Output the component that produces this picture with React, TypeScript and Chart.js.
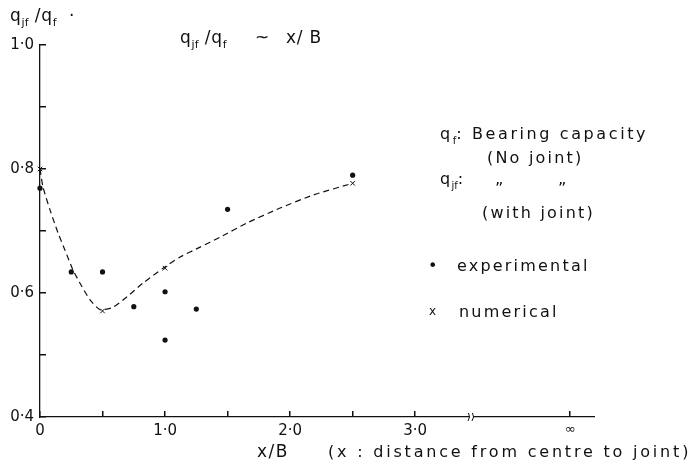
import React, { useEffect, useRef } from "react";
import { Chart, registerables } from "chart.js";

Chart.register(...registerables);

// ---- data ----
const experimentalX = [0, 0.25, 0.5, 0.75, 1.0, 1.0, 1.25, 1.5, 2.5];
const experimentalY = [0.769, 0.634, 0.634, 0.578, 0.602, 0.524, 0.574, 0.735, 0.79];

const numericalX = [0, 0.5, 1.0, 2.5];
const numericalY = [0.8, 0.571, 0.64, 0.777];

// dashed fitted curve
const curveX = [0, 0.024, 0.08, 0.144, 0.2, 0.264, 0.336, 0.4, 0.48, 0.584, 0.696, 0.824, 0.984, 1.12, 1.28, 1.44, 1.656, 1.92, 2.184, 2.5];
const curveY = [0.8, 0.771, 0.734, 0.697, 0.669, 0.637, 0.61, 0.589, 0.573, 0.577, 0.594, 0.616, 0.64, 0.658, 0.674, 0.69, 0.713, 0.737, 0.758, 0.777];

const xTickValues = [0, 0.5, 1, 1.5, 2, 2.5, 3, 4.24];
const xTickLabels = ["0", "", "1·0", "", "2·0", "", "3·0", "∞"];
const yTickValues = [0.4, 0.5, 0.6, 0.7, 0.8, 0.9, 1.0];
const yTickLabels = ["0·4", "", "0·6", "", "0·8", "", "1·0"];

const X_MIN = 0;
const X_MAX = 4.43;
const X_BREAK = 3.45;
const Y_MIN = 0.4;
const Y_MAX = 1.0;

const FONT = "'DejaVu Sans', sans-serif";
const INK = "#111";

type Part = { t: string; sub?: boolean };

function drawRich(ctx: CanvasRenderingContext2D, x: number, y: number, parts: Part[], size: number, spacing: number) {
  let cx = x;
  for (const p of parts) {
    const s = p.sub ? Math.round(size * 0.62) : size;
    ctx.font = `${s}px ${FONT}`;
    (ctx as any).letterSpacing = `${p.sub ? 0 : spacing}px`;
    ctx.fillText(p.t, cx, p.sub ? y + size * 0.32 : y);
    cx += ctx.measureText(p.t).width;
  }
  (ctx as any).letterSpacing = "0px";
}

const decorPlugin = {
  id: "decor",
  afterDraw(chart: any) {
    const ctx: CanvasRenderingContext2D = chart.ctx;
    const xs = chart.scales.x;
    const ys = chart.scales.y;
    const left = chart.chartArea.left;
    const bottom = chart.chartArea.bottom;
    ctx.save();
    ctx.setLineDash([]);
    ctx.strokeStyle = INK;
    ctx.fillStyle = INK;
    // inward tick marks
    for (const v of yTickValues) {
      const py = Math.round(ys.getPixelForValue(v));
      ctx.fillRect(left, py - 1, 6, 1.5);
    }
    for (const v of xTickValues) {
      const px = Math.round(xs.getPixelForValue(v));
      ctx.fillRect(px - 1, bottom - 6, 1.5, 6);
    }
    // axis break
    const bx = xs.getPixelForValue(X_BREAK);
    ctx.fillStyle = "#fff";
    ctx.fillRect(bx - 2, bottom - 3, 4, 6);
    ctx.fillStyle = INK;
    ctx.lineWidth = 1;
    ctx.beginPath();
    ctx.moveTo(bx - 3.5, bottom + 4);
    ctx.quadraticCurveTo(bx - 0.5, bottom, bx - 3, bottom - 4);
    ctx.moveTo(bx + 0.5, bottom + 4);
    ctx.quadraticCurveTo(bx + 3.5, bottom, bx + 1, bottom - 4);
    ctx.stroke();

    ctx.textAlign = "left";
    ctx.textBaseline = "alphabetic";
    // y-axis title
    drawRich(ctx, 10, 21, [{ t: "q" }, { t: "jf", sub: true }, { t: " /q" }, { t: "f", sub: true }, { t: "  ·" }], 17, 0.8);
    // chart title
    drawRich(ctx, 180, 43, [{ t: "q" }, { t: "jf", sub: true }, { t: " /q" }, { t: "f", sub: true }], 17, 0.8);
    drawRich(ctx, 255, 43, [{ t: "~" }], 17, 0);
    drawRich(ctx, 286, 43, [{ t: "x/ B" }], 17, 0.8);
    // legend text
    drawRich(ctx, 440, 139, [{ t: "q" }, { t: "f", sub: true }, { t: ": Bearing capacity" }], 16, 2.6);
    drawRich(ctx, 487, 163, [{ t: "(No joint)" }], 16, 2.2);
    drawRich(ctx, 440, 184, [{ t: "q" }, { t: "jf", sub: true }, { t: ":" }], 16, 1.4);
    drawRich(ctx, 495, 194, [{ t: "\u201D" }], 16, 0);
    drawRich(ctx, 558, 194, [{ t: "\u201D" }], 16, 0);
    drawRich(ctx, 482, 218, [{ t: "(with joint)" }], 16, 2.2);
    drawRich(ctx, 428, 271, [{ t: "•" }], 16, 0);
    drawRich(ctx, 457, 271, [{ t: "experimental" }], 16, 2.2);
    drawRich(ctx, 429, 315, [{ t: "x" }], 12, 0);
    drawRich(ctx, 459, 317, [{ t: "numerical" }], 16, 2.2);
    // x-axis title
    drawRich(ctx, 257, 457, [{ t: "x/B" }], 17, 1.5);
    drawRich(ctx, 328, 457, [{ t: "(x : distance from centre to joint)" }], 16, 2.8);
    ctx.restore();
  },
};

export default function App() {
  const ref = useRef<HTMLCanvasElement | null>(null);
  useEffect(() => {
    document.body.style.margin = "0";
    const canvas = ref.current!;
    const chart = new Chart(canvas, {
      type: "scatter",
      data: {
        datasets: [
          {
            label: "curve",
            type: "line",
            data: curveX.map((x, i) => ({ x, y: curveY[i] })),
            borderColor: INK,
            borderWidth: 1.2,
            borderDash: [6, 4],
            pointRadius: 0,
            tension: 0.2,
            fill: false,
          } as any,
          {
            label: "experimental",
            data: experimentalX.map((x, i) => ({ x, y: experimentalY[i] })),
            pointStyle: "circle",
            pointRadius: 2.6,
            backgroundColor: INK,
            borderColor: INK,
            borderWidth: 0,
          },
          {
            label: "numerical",
            data: numericalX.map((x, i) => ({ x, y: numericalY[i] })),
            pointStyle: "crossRot",
            pointRadius: 3.2,
            borderColor: INK,
            borderWidth: 1,
          },
        ],
      },
      options: {
        animation: false,
        responsive: false,
        devicePixelRatio: 1,
        clip: false as any,
        layout: { padding: { left: 0, top: 45, right: 103, bottom: 0 } },
        plugins: { legend: { display: false }, tooltip: { enabled: false } },
        scales: {
          x: {
            type: "linear",
            min: X_MIN,
            max: X_MAX,
            grid: { display: false, drawTicks: false },
            border: { display: true, color: INK, width: 1.3 },
            afterBuildTicks: (scale: any) => {
              scale.ticks = xTickValues.map((v) => ({ value: v }));
            },
            afterFit: (scale: any) => {
              scale.height = 53;
            },
            ticks: {
              autoSkip: false,
              maxRotation: 0,
              padding: 5,
              color: INK,
              font: (c: any) => ({ family: FONT, size: c.index === xTickLabels.length - 1 ? 13 : 15 }),
              callback: (_v: any, i: number) => xTickLabels[i],
            },
          },
          y: {
            type: "linear",
            min: Y_MIN,
            max: Y_MAX,
            grid: { display: false, drawTicks: false },
            border: { display: true, color: INK, width: 1.3 },
            afterBuildTicks: (scale: any) => {
              scale.ticks = yTickValues.map((v) => ({ value: v }));
            },
            afterFit: (scale: any) => {
              scale.width = 40;
            },
            ticks: {
              autoSkip: false,
              padding: 6,
              color: INK,
              font: { family: FONT, size: 15 },
              callback: (_v: any, i: number) => yTickLabels[i],
            },
          },
        },
      },
      plugins: [decorPlugin],
    });
    return () => chart.destroy();
  }, []);
  return (
    <div style={{ width: 697, height: 470, background: "#fff" }}>
      <canvas ref={ref} width={697} height={470} />
    </div>
  );
}
